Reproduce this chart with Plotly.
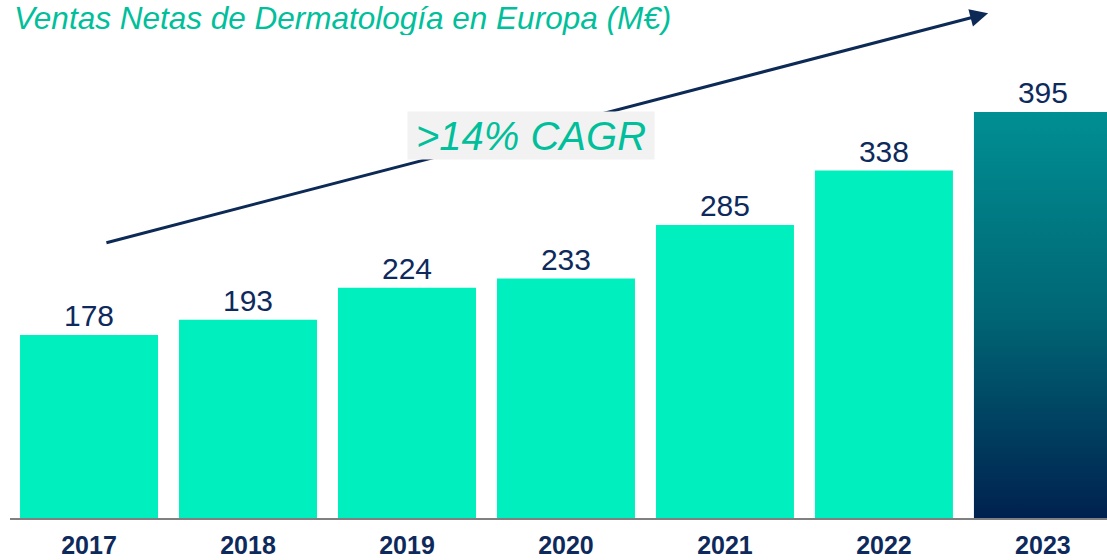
import plotly.graph_objects as go

years = ["2017", "2018", "2019", "2020", "2021", "2022", "2023"]
sales = [178, 193, 224, 233, 285, 338, 395]
title_text = "Ventas Netas de Dermatología en Europa (M€)"
cagr_text = ">14% CAGR"

BAR_W = 0.868
bar_color = "#00EFBF"
navy = "#0E2A5C"
teal_text = "#00BF9A"

xs = list(range(len(years)))
colors = [bar_color] * (len(years) - 1) + ["rgba(0,0,0,0)"]

fig = go.Figure()
fig.add_trace(go.Bar(
    x=xs, y=sales, width=BAR_W,
    marker=dict(color=colors, line=dict(width=0)),
    text=[str(v) for v in sales], textposition="outside",
    textfont=dict(family="Arial", size=30, color=navy),
    cliponaxis=False, hoverinfo="skip",
))
# gradient-filled last bar
lx = xs[-1]
fig.add_trace(go.Scatter(
    x=[lx - BAR_W / 2, lx + BAR_W / 2, lx + BAR_W / 2, lx - BAR_W / 2, lx - BAR_W / 2],
    y=[0, 0, sales[-1], sales[-1], 0],
    mode="lines", line=dict(width=0), fill="toself",
    fillgradient=dict(type="vertical", start=0, stop=sales[-1],
                      colorscale=[[0, "#00214F"], [0.5, "#006675"], [1, "#008F93"]]),
    hoverinfo="skip", showlegend=False,
))

fig.update_layout(
    width=1107, height=560,
    margin=dict(l=10, r=0, t=0, b=42),
    plot_bgcolor="white", paper_bgcolor="white",
    showlegend=False,
    xaxis=dict(range=[-0.497, 6.403], tickvals=xs, ticktext=years,
               showline=True, linecolor="#808080", linewidth=2, automargin=False,
               showgrid=False, zeroline=False, ticks="", ticklabelstandoff=4,
               tickfont=dict(family="Arial", size=25, color=navy, weight="bold")),
    yaxis=dict(range=[0, 504], visible=False, showgrid=False, zeroline=False),
    annotations=[
        dict(text=title_text, xref="paper", yref="paper", x=0, y=1,
             xanchor="left", yanchor="top", showarrow=False, xshift=3,
             height=34, valign="middle", borderpad=0,
             font=dict(family="Arial", size=31.5, color=teal_text, style="italic")),
        dict(text="", x=5.655, y=491, xref="x", yref="y",
             ax=0.10, ay=267.5, axref="x", ayref="y",
             showarrow=True, arrowhead=2, arrowsize=1.2, arrowwidth=3,
             arrowcolor="#0D2A57"),
        dict(text=cagr_text, x=2.783, y=372.6, xref="x", yref="y",
             xanchor="center", yanchor="middle", showarrow=False,
             bgcolor="#F2F2F2", width=246, height=47, borderpad=0,
             font=dict(family="Arial", size=40, color=teal_text, style="italic")),
    ],
)

fig.write_html("out.html", config={"displayModeBar": False},
               post_script="document.body.style.margin='0px';")
